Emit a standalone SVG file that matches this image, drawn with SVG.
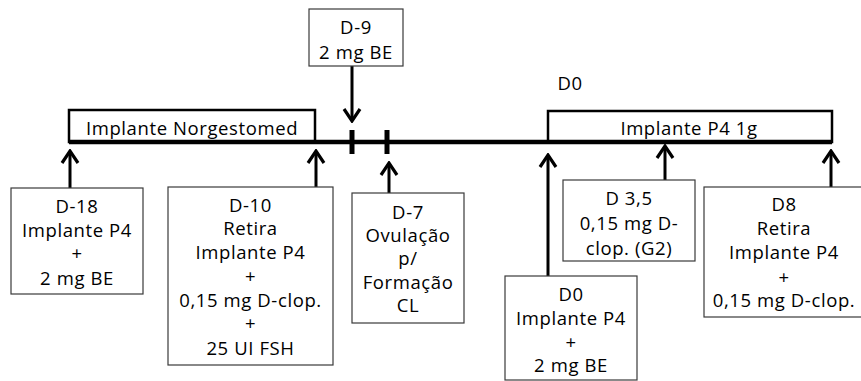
<svg xmlns="http://www.w3.org/2000/svg" width="861" height="381" viewBox="0 0 861 381">
<defs>
<style>
text{font-family:"Open Sans","Liberation Sans",sans-serif;font-size:18.5px;letter-spacing:0.6px;fill:#000;text-anchor:middle}
.node{fill:#fff;stroke:#3a3a3a;stroke-width:1.2}
.bar{fill:none;stroke:#000;stroke-width:2.5}
.arr{stroke:#000;stroke-width:3;fill:none}
.tick{stroke:#000;stroke-width:5}
</style>
<marker id="ah" markerUnits="userSpaceOnUse" viewBox="-16 -10 18 20" markerWidth="18" markerHeight="20" refX="0" refY="0" orient="auto">
<path d="M-12,-8 L0,0 L-12,8" fill="none" stroke="#000" stroke-width="3.2" stroke-linecap="butt" stroke-linejoin="miter"/>
</marker>
</defs>
<rect width="861" height="381" fill="#fff"/>
<g id="timeline">
<rect id="norgestomed" class="bar" x="69" y="110" width="246" height="32"/>
<text x="192" y="135">Implante Norgestomed</text>
<rect id="implanteP4" class="bar" x="548" y="111" width="284" height="31"/>
<text x="689" y="135">Implante P4 1g</text>
<line x1="69" y1="142" x2="832" y2="142" stroke="#000" stroke-width="4.5"/>
<line class="tick" x1="352" y1="130" x2="352" y2="154"/>
<line class="tick" x1="387" y1="130" x2="387" y2="154"/>
<text x="570" y="90">D0</text>
</g>
<g id="connectors">
<line class="arr" x1="70" y1="188" x2="70" y2="151" marker-end="url(#ah)"/>
<line class="arr" x1="316" y1="187" x2="316" y2="151" marker-end="url(#ah)"/>
<line class="arr" x1="352" y1="66" x2="352" y2="121" marker-end="url(#ah)"/>
<line class="arr" x1="389" y1="193" x2="389" y2="163" marker-end="url(#ah)"/>
<line class="arr" x1="548" y1="276" x2="548" y2="155" marker-end="url(#ah)"/>
<line class="arr" x1="665" y1="185" x2="665" y2="146" marker-end="url(#ah)"/>
<line class="arr" x1="831" y1="187" x2="831" y2="151" marker-end="url(#ah)"/>
</g>
<g id="n-d18">
<rect class="node" x="11" y="188" width="132" height="106"/>
<text x="77" y="213">D-18</text>
<text x="77" y="237">Implante P4</text>
<text x="77" y="260">+</text>
<text x="77" y="285">2 mg BE</text>
</g>
<g id="n-d10">
<rect class="node" x="168" y="187" width="165" height="178"/>
<text x="250.5" y="212">D-10</text>
<text x="250.5" y="235">Retira</text>
<text x="250.5" y="259">Implante P4</text>
<text x="250.5" y="283">+</text>
<text x="250.5" y="307">0,15 mg D-clop.</text>
<text x="250.5" y="330">+</text>
<text x="250.5" y="355">25 UI FSH</text>
</g>
<g id="n-d9">
<rect class="node" x="309" y="9" width="94" height="57"/>
<text x="356" y="34">D-9</text>
<text x="356" y="59">2 mg BE</text>
</g>
<g id="n-d7">
<rect class="node" x="352" y="193" width="112" height="130"/>
<text x="408" y="219">D-7</text>
<text x="408" y="242">Ovulação</text>
<text x="408" y="265">p/</text>
<text x="408" y="289">Formação</text>
<text x="408" y="312">CL</text>
</g>
<g id="n-d35">
<rect class="node" x="563" y="180" width="132" height="81"/>
<text x="629" y="205">D 3,5</text>
<text x="629" y="230">0,15 mg D-</text>
<text x="629" y="255">clop. (G2)</text>
</g>
<g id="n-d0">
<rect class="node" x="505" y="276" width="132" height="104"/>
<text x="571" y="301">D0</text>
<text x="571" y="325">Implante P4</text>
<text x="571" y="349">+</text>
<text x="571" y="372">2 mg BE</text>
</g>
<g id="n-d8">
<rect class="node" x="704" y="187" width="162" height="130"/>
<text x="784" y="211">D8</text>
<text x="784" y="235">Retira</text>
<text x="784" y="259">Implante P4</text>
<text x="784" y="284">+</text>
<text x="784" y="307">0,15 mg D-clop.</text>
</g>
</svg>
